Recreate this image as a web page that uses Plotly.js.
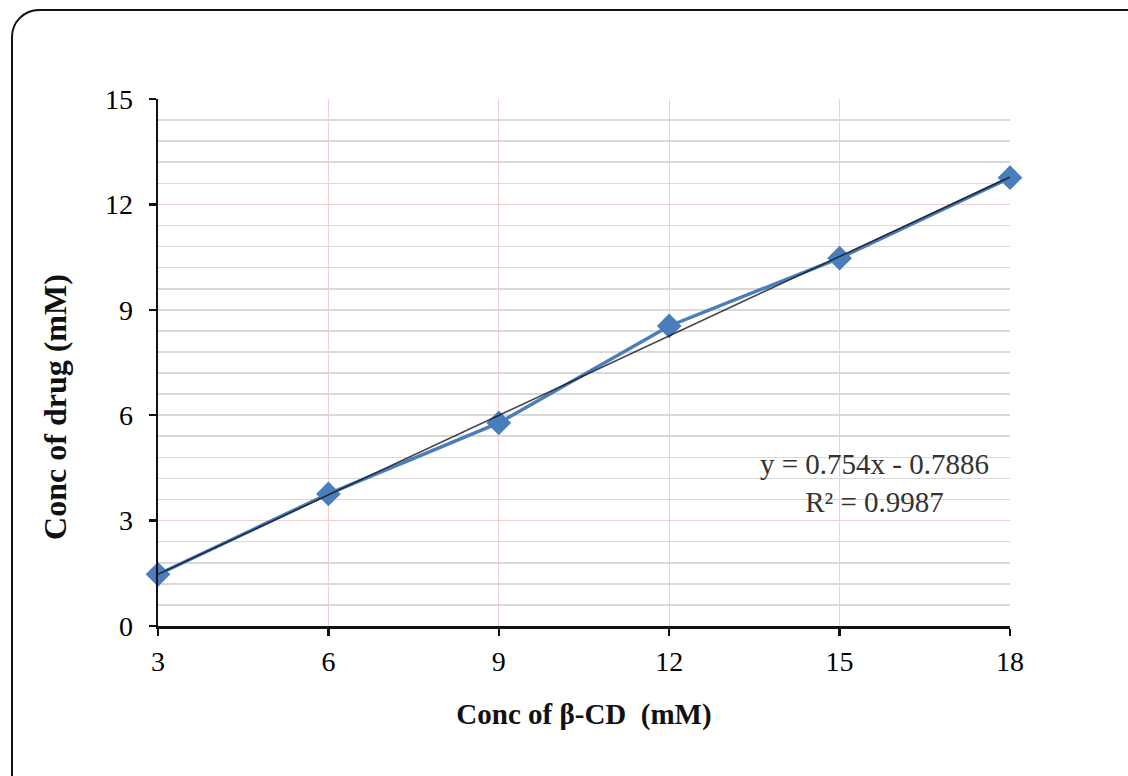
<!DOCTYPE html>
<html>
<head>
<meta charset="utf-8">
<script src="https://cdn.plot.ly/plotly-3.0.1.min.js"></script>
<style>
  html, body { margin: 0; padding: 0; background: #fff; overflow: hidden; }
  #wrap { position: relative; width: 1128px; height: 776px; }
  #chart { position: absolute; left: 0; top: 0; width: 1128px; height: 776px; }
  #frame { position: absolute; left: 11px; top: 9px; width: 1140px; height: 800px;
           border: 2.5px solid #111; border-radius: 28px; pointer-events: none; }
</style>
</head>
<body>
<div id="wrap">
  <div id="chart"></div>
  <div id="frame"></div>
</div>
<script>
// Data
const betaCD = [3, 6, 9, 12, 15, 18];
const drugConc = [1.47, 3.76, 5.78, 8.54, 10.47, 12.76];
// Linear trendline endpoints (as drawn)
const trendX = [3, 18];
const trendY = [1.47, 12.78];
const xTicks = [3, 6, 9, 12, 15, 18];
const yTicks = [0, 3, 6, 9, 12, 15];
const eqText = "y = 0.754x - 0.7886<br>R² = 0.9987";
const xTitle = "<b>Conc of β-CD  (mM)</b>";
const yTitle = "<b>Conc of drug (mM)</b>";

const serif = "Liberation Serif, Times New Roman, serif";

const traces = [
  {
    x: betaCD, y: drugConc, type: 'scatter', mode: 'lines+markers',
    line: { color: '#4a7ebb', width: 3.5 },
    marker: { symbol: 'diamond', size: 19, color: '#4a7ebb' },
    cliponaxis: false,
    showlegend: false, hoverinfo: 'skip'
  },
  {
    x: trendX, y: trendY, type: 'scatter', mode: 'lines',
    line: { color: 'rgba(20,20,30,0.8)', width: 1.6 },
    showlegend: false, hoverinfo: 'skip'
  }
];

const layout = {
  width: 1128, height: 776,
  paper_bgcolor: '#ffffff', plot_bgcolor: '#ffffff',
  margin: { l: 158, r: 118, t: 99, b: 150 },
  font: { family: serif, color: '#111' },
  xaxis: {
    range: [3, 18], tickvals: xTicks, ticktext: xTicks.map(String),
    showline: true, linecolor: '#111', linewidth: 2.5,
    ticks: 'outside', ticklen: 7, tickwidth: 2.5, tickcolor: '#111',
    ticklabelstandoff: 2,
    showgrid: true, gridcolor: '#f2cfcf', gridwidth: 1.2,
    zeroline: false,
    tickfont: { family: serif, size: 28, color: '#000' },
    title: { text: xTitle, font: { family: serif, size: 29, color: '#111' }, standoff: 28 }
  },
  yaxis: {
    range: [0, 15], tickvals: yTicks, ticktext: yTicks.map(String),
    showline: true, linecolor: '#111', linewidth: 2.5,
    ticks: 'outside', ticklen: 7, tickwidth: 2.5, tickcolor: '#111',
    ticklabelstandoff: 10,
    showgrid: true, gridcolor: '#f2cfcf', gridwidth: 1.2,
    zeroline: false,
    minor: { dtick: 0.6, showgrid: true, gridcolor: '#d9d9d9', gridwidth: 1.6, ticks: '' },
    tickfont: { family: serif, size: 28, color: '#000' }
  },
  annotations: [
    {
      x: 15.62, y: 4.07, xref: 'x', yref: 'y',
      text: eqText, showarrow: false, align: 'center',
      font: { family: serif, size: 29, color: '#333' }
    },
    {
      x: -0.121, y: 0.4156, xref: 'paper', yref: 'paper',
      text: yTitle, showarrow: false, textangle: -90,
      xanchor: 'center', yanchor: 'middle',
      font: { family: serif, size: 32, color: '#111' }
    }
  ]
};

Plotly.newPlot('chart', traces, layout, { displayModeBar: false, staticPlot: true });
</script>
</body>
</html>
